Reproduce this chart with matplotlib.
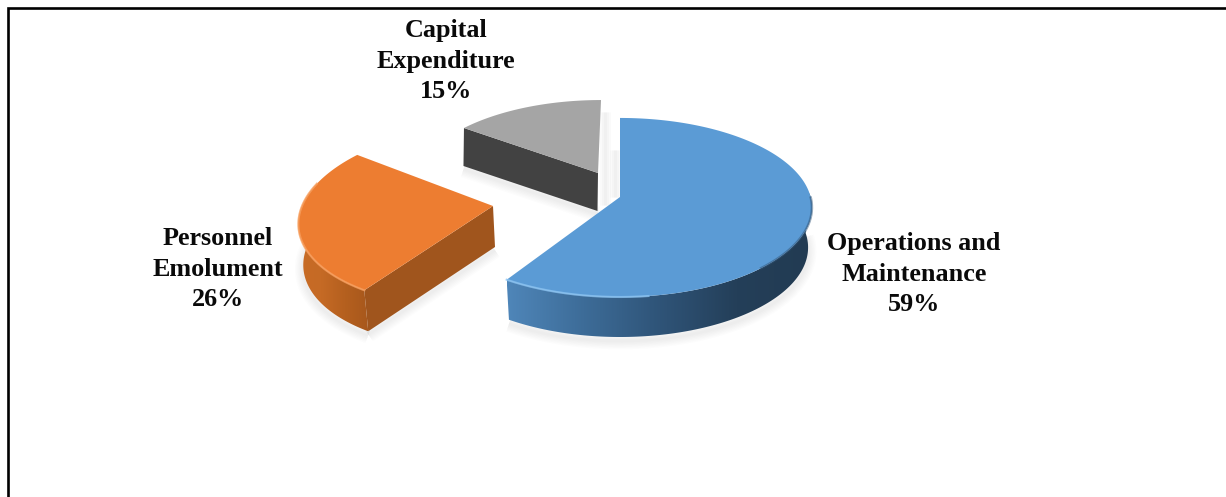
import numpy as np
import matplotlib
matplotlib.use("Agg")
import matplotlib.pyplot as plt
from matplotlib.path import Path
from matplotlib.patches import Polygon
from matplotlib.transforms import Transform
from matplotlib.colors import LinearSegmentedColormap

categories = ["Operations and\nMaintenance", "Personnel\nEmolument", "Capital\nExpenditure"]
values = [59, 26, 15]
colors = ["#5B9BD5", "#ED7D31", "#A5A5A5"]

W, H = 1226, 497
plt.rcParams["font.family"] = ["Liberation Serif", "DejaVu Serif"]
fig = plt.figure(figsize=(W / 100, H / 100), dpi=100)
ax = fig.add_axes([0, 0, 1, 1])


class Persp(Transform):
    """Tilted-disc projection of the unit pie into figure pixels."""
    input_dims = output_dims = 2

    def __init__(self, ox, oy, rx, s, a, k):
        super().__init__()
        self.p = (ox, oy, rx, s, a, k)

    def transform_non_affine(self, xy):
        xy = np.asarray(xy, float)
        ox, oy, rx, s, a, k = self.p
        u, v = xy[:, 0], xy[:, 1]
        d = 1 + k * v
        return np.column_stack([ox + (rx * u + s * v) / d, oy - a * v / d])

    def transform_path_non_affine(self, path):
        # flatten at a large scale so that the arc stays smooth
        fine = Path(path.vertices * 2000.0, path.codes).to_polygons()[0] / 2000.0
        return Path(self.transform_non_affine(fine))


views = [
    Persp(620, 197, 190.6, 0, 88.3, 0.117),
    Persp(493, 206, 191, 19, 91.8, 0.095),
    Persp(598, 173, 180.6, 3.4, 82.3, 0.128),
]
depths = [40, 41, 38]
foot_scale = [0.98, 0.985, 1.0]
foot_drift = [0, 2, -0.5]

wedges, _ = ax.pie(values, colors=colors, startangle=90, counterclock=False, frame=False)

ax.set_aspect("auto")
ax.set_xlim(0, W)
ax.set_ylim(H, 0)
ax.set_position([0, 0, 1, 1])
ax.axis("off")


def arc(view, t1, t2, n=160):
    t = np.radians(np.linspace(t1, t2, n))
    return view.transform_non_affine(np.column_stack([np.cos(t), np.sin(t)]))


def gradient_fill(poly, stops, z):
    x0, x1 = poly[:, 0].min(), poly[:, 0].max()
    y0, y1 = poly[:, 1].min(), poly[:, 1].max()
    cmap = LinearSegmentedColormap.from_list("side", stops)
    im = ax.imshow(np.linspace(0, 1, 256)[None, :], cmap=cmap, aspect="auto",
                   extent=(x0, x1, y1, y0), zorder=z)
    clip = Polygon(poly, closed=True, transform=ax.transData)
    im.set_clip_path(clip)


def soft_shadow(pts, z=1, spread=14, strength=0.014, dy=4):
    for lw in np.arange(2, spread, 2):
        ax.plot(pts[:, 0], pts[:, 1] + dy, color="#666666", lw=lw,
                alpha=strength, solid_capstyle="butt", zorder=z)


side_stops = [
    ["#4F86B9", "#3D6C98", "#2F5478", "#243F59", "#223B52"],
    ["#C86C26", "#C56A25", "#B5601F", "#A8581C"],
]
side_ranges = [lambda w: (w.theta1, w.theta1 + 125), lambda w: (w.theta2 - 72, w.theta2)]

for i, (w, view, dep) in enumerate(zip(wedges, views, depths)):
    w.set_transform(view + ax.transData)
    w.set_clip_on(False)
    w.set_linewidth(0)
    w.set_zorder(4)
    ox, oy = view.p[:2]
    apex = np.array([ox, oy], float)
    foot = lambda p: apex + (p - apex) * [foot_scale[i], 1] + [foot_drift[i], dep]
    if i < 2:
        t1, t2 = side_ranges[i](w)
        top = arc(view, t1, t2)
        low = foot(top)
        gradient_fill(np.vstack([top, low[::-1]]), side_stops[i], 2)
        soft_shadow(low)
    # radial cut face towards the viewer (orange and grey)
    if i > 0:
        c = arc(view, w.theta2, w.theta2, 1)[0]
        face = np.array([apex, c, foot(c), foot(apex)])
        ax.add_patch(Polygon(face, closed=True, lw=0, zorder=3,
                             facecolor=["", "#A0551D", "#424242"][i]))
        soft_shadow(face[2:], dy=3)

# bright bevel along the front rim of the top surfaces
b = wedges[0]
ax.plot(*arc(views[0], b.theta1, b.theta1 + 40).T, color="#8CC4F2", lw=1.5, alpha=0.8, zorder=5)
ax.plot(*arc(views[0], b.theta1 + 75, b.theta1 + 122).T, color="#2F5478", lw=1.8, alpha=0.5, zorder=5)
o = wedges[1]
ax.plot(*arc(views[1], o.theta2 - 72, o.theta2).T, color="#F8A060", lw=1.5, alpha=0.8, zorder=5)

# faint shadow the gap edges throw on the background
for x0, y0, y1 in [(605, 112, 205), (615, 150, 197)]:
    for lw in (2, 5, 8):
        ax.plot([x0, x0], [y0, y1], color="#777777", lw=lw, alpha=0.035,
                solid_capstyle="butt", zorder=1)

label_pos = [(914, 268), (218, 263), (446, 55)]
for cat, val, (x, y) in zip(categories, values, label_pos):
    ax.text(x, y, f"{cat}\n{val}%", ha="center", va="center_baseline", fontsize=18.8,
            fontweight="bold", color="#0A0A0A", linespacing=1.39, zorder=6)

# picture border
ax.plot([8, 8, W], [H, 8, 8], color="black", lw=1.9, solid_joinstyle="miter",
        clip_on=False, zorder=7)
ax.set_xlim(0, W)
ax.set_ylim(H, 0)

fig.savefig("out.png", dpi=100, facecolor="white")
